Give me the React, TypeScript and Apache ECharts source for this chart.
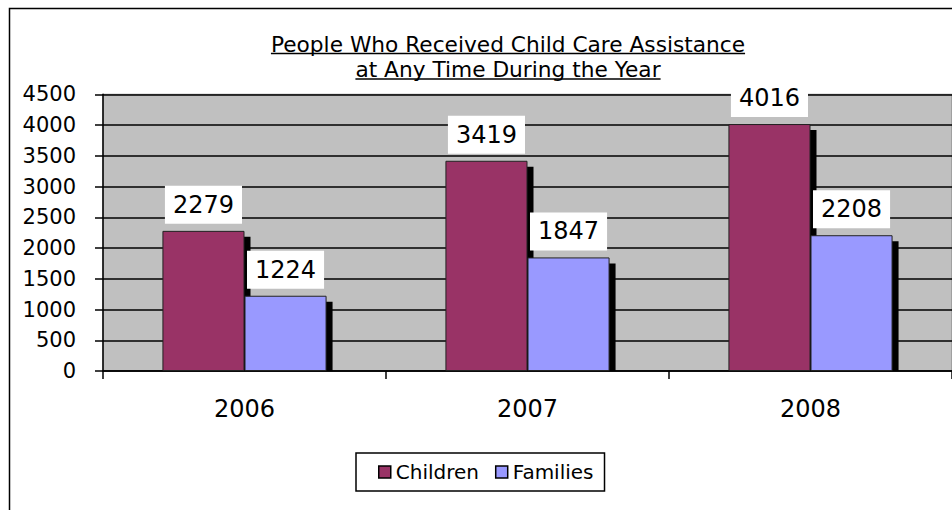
import React, { useEffect, useRef } from "react";
import * as echarts from "echarts";

const years = ["2006", "2007", "2008"];
const children = [2279, 3419, 4016];
const families = [1224, 1847, 2208];
const yTicks = { min: 0, max: 4500, interval: 500 };
const titleLines = ["People Who Received Child Care Assistance", "at Any Time During the Year"];

const FONT = "DejaVu Sans";
const CAT_GAP = 0.42;

function measure(text: string, size: number): number {
  const c = document.createElement("canvas").getContext("2d");
  if (!c) return text.length * size * 0.55;
  c.font = `${size}px "${FONT}"`;
  return c.measureText(text).width;
}

export default function App() {
  const ref = useRef<HTMLDivElement>(null);
  useEffect(() => {
    if (!ref.current) return;
    const chart = echarts.init(ref.current, undefined, { renderer: "svg" });
    const titleSize = 21.7;
    const titleCx = 508;
    const titleY = [44, 69.5];
    const underlineY = [53.5, 79];
    const graphics: any[] = [
      {
        type: "rect",
        z: -10,
        shape: { x: 9.5, y: 8.5, width: 1000, height: 600 },
        style: { fill: "none", stroke: "#000", lineWidth: 1.5 },
      },
    ];
    titleLines.forEach((t, i) => {
      const w = measure(t, titleSize);
      graphics.push({
        type: "text",
        x: titleCx,
        y: titleY[i],
        style: {
          text: t,
          fill: "#000",
          font: `${titleSize}px "${FONT}"`,
          align: "center",
          verticalAlign: "middle",
        },
      });
      graphics.push({
        type: "line",
        shape: { x1: titleCx - w / 2, y1: underlineY[i], x2: titleCx + w / 2, y2: underlineY[i] },
        style: { stroke: "#000", lineWidth: 1.5 },
      });
    });

    const shadowData: number[][] = [];
    years.forEach((_, i) => {
      shadowData.push([i, children[i], 0]);
      shadowData.push([i, families[i], 1]);
    });

    const label = {
      show: true,
      position: "top",
      distance: 7,
      backgroundColor: "#fff",
      padding: [7, 8],
      color: "#000",
      fontSize: 24,
      fontFamily: FONT,
    };

    chart.setOption({
      animation: false,
      backgroundColor: "#fff",
      textStyle: { fontFamily: FONT },
      graphic: graphics,
      grid: {
        left: 103,
        top: 94.3,
        width: 859.5,
        height: 276.7,
        show: true,
        backgroundColor: "#C0C0C0",
        borderColor: "#808080",
        borderWidth: 1,
        containLabel: false,
      },
      legend: {
        data: ["Children", "Families"],
        left: 356,
        top: 453,
        orient: "horizontal",
        padding: [9, 11, 9, 22],
        borderColor: "#000",
        borderWidth: 1.5,
        backgroundColor: "#fff",
        itemWidth: 12,
        itemHeight: 12,
        itemGap: 16,
        icon: "rect",
        itemStyle: { borderColor: "#000", borderWidth: 1.5 },
        textStyle: { fontSize: 20, fontFamily: FONT, color: "#000" },
      },
      xAxis: {
        type: "category",
        data: years,
        axisLine: { show: true, lineStyle: { color: "#000", width: 1.5 } },
        axisTick: { show: true, length: 8, lineStyle: { color: "#000", width: 1.5 } },
        axisLabel: { margin: 26, fontSize: 24, color: "#000", fontFamily: FONT },
        splitLine: { show: false },
      },
      yAxis: {
        type: "value",
        min: yTicks.min,
        max: yTicks.max,
        interval: yTicks.interval,
        axisLine: { show: true, lineStyle: { color: "#000", width: 1.5 } },
        axisTick: { show: true, length: 8, lineStyle: { color: "#000", width: 1.5 } },
        axisLabel: {
          margin: 27,
          fontSize: 21,
          color: "#000",
          fontFamily: FONT,
          formatter: (v: number) => String(v),
        },
        splitLine: { show: true, lineStyle: { color: "#000", width: 1.5 } },
      },
      series: [
        {
          type: "custom",
          name: "shadow",
          z: 1,
          silent: true,
          data: shadowData,
          encode: { x: 0, y: 1 },
          renderItem: (params: any, api: any) => {
            const ci = api.value(0);
            const v = api.value(1);
            const k = api.value(2);
            const top = api.coord([ci, v]);
            const base = api.coord([ci, 0]);
            const band = api.size([1, 0])[0];
            const bw = (band * (1 - CAT_GAP)) / 2;
            const left = top[0] - bw + k * bw;
            return {
              type: "rect",
              shape: { x: left + 6, y: top[1] + 6, width: bw, height: Math.max(0, base[1] - top[1] - 6) },
              style: { fill: "#000" },
            };
          },
        },
        {
          type: "bar",
          name: "Children",
          z: 2,
          data: children,
          barGap: "0%",
          barCategoryGap: `${CAT_GAP * 100}%`,
          itemStyle: { color: "#993366", borderColor: "#222", borderWidth: 1 },
          label,
        },
        {
          type: "bar",
          name: "Families",
          z: 2,
          data: families,
          barGap: "0%",
          barCategoryGap: `${CAT_GAP * 100}%`,
          itemStyle: { color: "#9999FF", borderColor: "#222", borderWidth: 1 },
          label,
        },
      ],
    });
    return () => chart.dispose();
  }, []);
  return (
    <div
      ref={ref}
      style={{ position: "absolute", left: 0, top: 0, width: 952, height: 510 }}
    />
  );
}
